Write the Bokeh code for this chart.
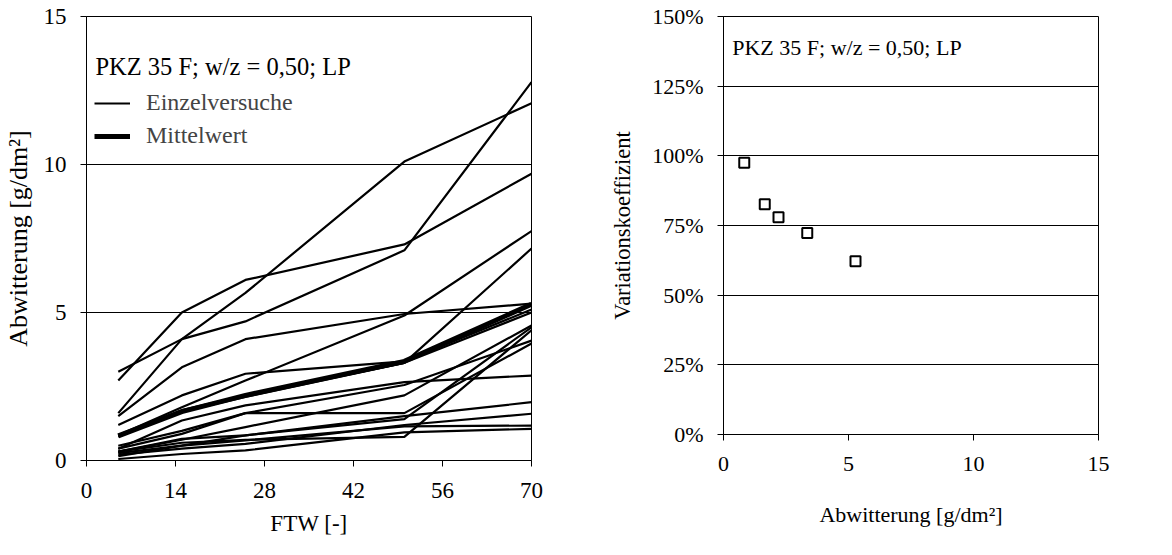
from bokeh.plotting import figure
from bokeh.layouts import row, column
from bokeh.models import Legend, LegendItem, Label, NumeralTickFormatter, FixedTicker, Range1d
from bokeh.embed import file_html
from bokeh.resources import INLINE

# ---------------- data ----------------
ftw = [5, 15, 25, 50, 70]

run_01 = [1.6, 4.1, 5.66, 10.1, 12.07]
run_02 = [3.0, 4.1, 4.7, 7.1, 12.78]
run_03 = [2.7, 5.0, 6.1, 7.3, 9.69]
run_04 = [1.5, 3.15, 4.1, 4.95, 5.3]
run_05 = [0.85, 1.8, 2.7, 4.9, 7.75]
run_06 = [0.85, 1.7, 2.2, 3.3, 7.16]
run_07 = [0.3, 0.6, 0.7, 0.8, 4.4]
run_08 = [0.4, 0.9, 1.6, 1.6, 3.95]
run_09 = [1.2, 2.2, 2.93, 3.35, 5.1]
run_10 = [0.8, 1.65, 2.15, 3.3, 5.0]
run_11 = [0.4, 1.35, 1.86, 2.65, 2.87]
run_12 = [0.3, 0.7, 1.13, 2.2, 4.56]
run_13 = [0.5, 1.0, 1.6, 2.55, 4.05]
run_14 = [0.25, 0.5, 0.85, 1.5, 1.97]
run_15 = [0.3, 0.73, 0.85, 1.4, 4.5]
run_16 = [0.2, 0.4, 0.56, 1.2, 1.58]
run_17 = [0.15, 0.5, 0.68, 1.15, 1.18]
run_18 = [0.05, 0.22, 0.34, 0.95, 1.07]
single_runs = [run_01, run_02, run_03, run_04, run_05, run_06, run_07, run_08, run_09,
               run_10, run_11, run_12, run_13, run_14, run_15, run_16, run_17, run_18]

mean_value = [0.83, 1.65, 2.2, 3.35, 5.28]

cv_abwitterung = [0.83, 1.65, 2.2, 3.35, 5.28]
cv_value = [0.975, 0.826, 0.78, 0.723, 0.622]

left_xticks = [0, 14, 28, 42, 56, 70]
left_yticks = [0, 5, 10, 15]
right_xticks = [0, 5, 10, 15]
right_yticks = [0, 0.25, 0.5, 0.75, 1.0, 1.25, 1.5]

series_label = "PKZ 35 F; w/z = 0,50; LP"

FONT = "Liberation Serif"


def style(p, fs):
    for ax in (p.xaxis, p.yaxis):
        ax.axis_line_color = "black"
        ax.axis_line_width = 1
        ax.major_tick_line_color = "black"
        ax.major_tick_out = 6
        ax.major_tick_in = 0
        ax.minor_tick_line_color = None
        ax.major_label_text_font = FONT
        ax.major_label_text_font_size = fs
        ax.major_label_text_color = "black"
        ax.axis_label_text_font = FONT
        ax.axis_label_text_font_size = fs
        ax.axis_label_text_font_style = "normal"
        ax.axis_label_text_color = "black"
    p.xgrid.visible = False
    p.ygrid.grid_line_color = "black"
    p.ygrid.grid_line_width = 1
    p.outline_line_color = "black"
    p.outline_line_width = 1
    p.outline_line_alpha = 1
    p.background_fill_color = "white"
    p.border_fill_color = "white"


# ---------------- left chart ----------------
p1 = figure(width=607, height=539, x_range=Range1d(0, 70), y_range=Range1d(0, 15),
            output_backend="svg", toolbar_location=None,
            min_border_left=79, min_border_right=76, min_border_top=16, min_border_bottom=79)
style(p1, "23px")
p1.xaxis.ticker = FixedTicker(ticks=left_xticks)
p1.yaxis.ticker = FixedTicker(ticks=left_yticks)
p1.xaxis.axis_label = "FTW [-]"
p1.yaxis.axis_label = "Abwitterung [g/dm²]"
p1.yaxis.axis_label_text_font_size = "26px"
p1.xaxis.major_label_standoff = 16
p1.xaxis.axis_label_standoff = 10
p1.yaxis.major_label_standoff = 14
p1.yaxis.axis_label_standoff = 8

single_renderers = []
for r in single_runs:
    single_renderers.append(p1.line(ftw, r, line_color="black", line_width=2.2))
mean_r = p1.line(ftw, mean_value, line_color="black", line_width=5)

legend = Legend(items=[LegendItem(label="Einzelversuche", renderers=[single_renderers[0]]),
                       LegendItem(label="Mittelwert", renderers=[mean_r])],
                location=(8, 311), padding=0, spacing=6, margin=0,
                glyph_width=36, glyph_height=24, label_height=24, label_standoff=16,
                label_text_font=FONT, label_text_font_size="24px",
                border_line_color=None, background_fill_alpha=0)
p1.add_layout(legend, "center")

p1.add_layout(Label(x=1.4, y=13.3, text=series_label, text_font=FONT, text_font_size="24.5px",
                    text_baseline="middle", text_align="left", text_color="black"))

# ---------------- right chart ----------------
p2 = figure(width=549, height=539, x_range=Range1d(0, 15), y_range=Range1d(0, 1.5),
            output_backend="svg", toolbar_location=None,
            min_border_left=109, min_border_right=58, min_border_top=16, min_border_bottom=105)
style(p2, "22px")
p2.xaxis.ticker = FixedTicker(ticks=right_xticks)
p2.yaxis.ticker = FixedTicker(ticks=right_yticks)
p2.yaxis.formatter = NumeralTickFormatter(format="0%")
p2.xaxis.axis_label = "Abwitterung [g/dm²]"
p2.yaxis.axis_label = "Variationskoeffizient"
p2.yaxis.axis_label_text_font_size = "22.5px"
p2.xaxis.major_label_standoff = 16
p2.xaxis.axis_label_standoff = 28
p2.yaxis.major_label_standoff = 14
p2.yaxis.axis_label_standoff = 14

p2.scatter(cv_abwitterung, cv_value, marker="square", size=10, fill_color="white",
           line_color="black", line_width=2)

p2.add_layout(Label(x=0.35, y=1.39, text=series_label, text_font=FONT, text_font_size="22px",
                    text_baseline="middle", text_align="left", text_color="black"))

layout = row(column(p1), column(p2))
open("out.html", "w").write(file_html(layout, INLINE))
